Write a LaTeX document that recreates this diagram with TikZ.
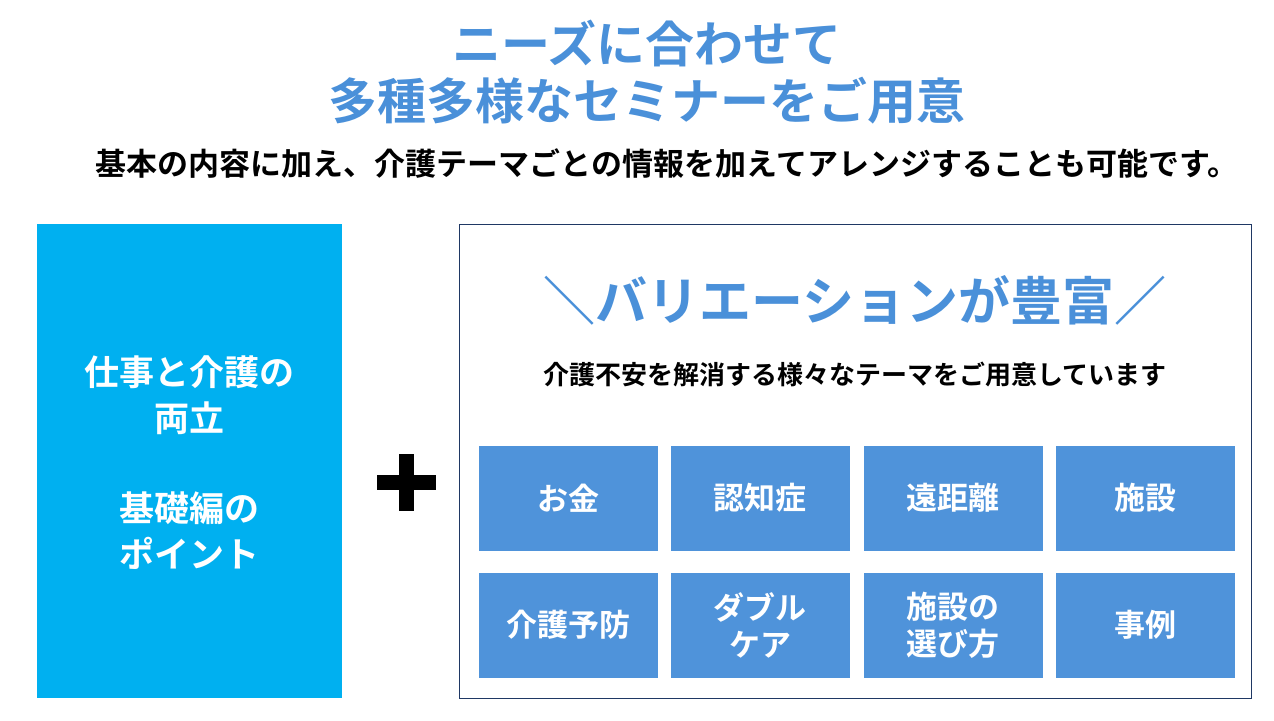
\documentclass[tikz,border=0pt]{standalone}
\usepackage{fontspec}
\setmainfont{Noto Sans CJK JP Bold}
\definecolor{ttl}{HTML}{4A90D9}
\definecolor{lbox}{HTML}{00B0F0}
\definecolor{gbox}{HTML}{4F93DA}
\definecolor{frm}{HTML}{1F3864}
\tikzset{cell/.style={fill=gbox,minimum width=179pt,minimum height=105pt,text=white,font=\fontsize{31}{37}\selectfont,align=center,inner sep=0pt}}
\begin{document}
\begin{tikzpicture}[x=1pt,y=-1pt]
\useasboundingbox (0,0) rectangle (1274,720);
\node[text=ttl,font=\fontsize{49}{56}\selectfont,align=center] (t1) at (647,43) {ニーズに合わせて};
\node[text=ttl,font=\fontsize{49}{56}\selectfont,align=center] (t2) at (647,101) {多種多様なセミナーをご用意};
\node[font=\fontsize{31}{36}\selectfont] (sub) at (667,164) {基本の内容に加え、介護テーマごとの情報を加えてアレンジすることも可能です。};
\node[fill=lbox,minimum width=305pt,minimum height=474pt,inner sep=0pt] (lb) at (189.5,461) {};
\node[text=white,font=\fontsize{35}{46}\selectfont,align=center] (lt1) at (189.5,395) {仕事と介護の\\両立};
\node[text=white,font=\fontsize{35}{46}\selectfont,align=center] (lt2) at (189.5,531) {基礎編の\\ポイント};
\fill (399,454) rectangle (414,511);
\fill (377,475) rectangle (436,490);
\node[draw=frm,line width=1pt,minimum width=792pt,minimum height=474pt,inner sep=0pt] (rb) at (855,461) {};
\node[text=ttl,font=\fontsize{52}{60}\selectfont] (h) at (855,300) {＼バリエーションが豊富／};
\node[font=\fontsize{26}{30}\selectfont] (hs) at (855,374) {介護不安を解消する様々なテーマをご用意しています};
\node[cell] (c1) at (568.5,498) {お金};
\node[cell] (c2) at (760,498) {認知症};
\node[cell] (c3) at (953,498) {遠距離};
\node[cell] (c4) at (1145.5,498) {施設};
\node[cell] (c5) at (568.5,625) {介護予防};
\node[cell] (c6) at (760,625) {ダブル\\ケア};
\node[cell] (c7) at (953,625) {施設の\\選び方};
\node[cell] (c8) at (1145.5,625) {事例};
\end{tikzpicture}
\end{document}
